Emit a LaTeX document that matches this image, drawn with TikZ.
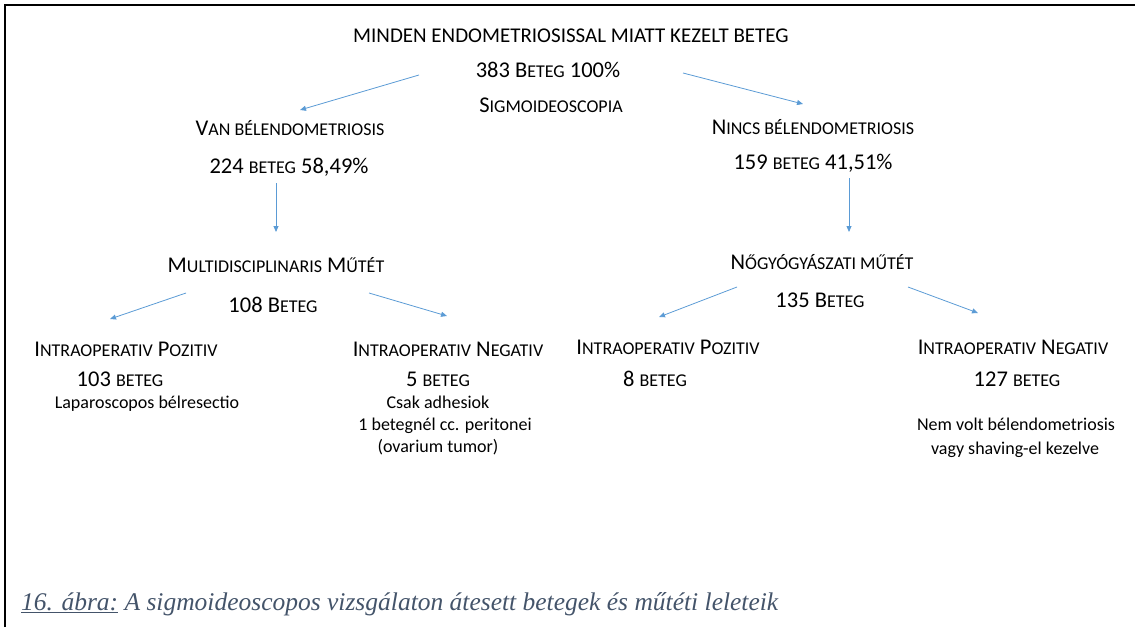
\documentclass[tikz,border=0pt]{standalone}
\usepackage{fontspec}
\setmainfont{Carlito}
\newfontfamily\captionfont{Liberation Serif}
\usepackage{xcolor}
\usetikzlibrary{arrows.meta,calc}
\definecolor{arrowblue}{RGB}{91,155,213}
\definecolor{captionblue}{RGB}{68,84,106}
\newcommand{\smc}[1]{{\fontsize{18}{20}\selectfont #1}}

\begin{document}
\begin{tikzpicture}[x=1pt,y=-1pt,
  txt/.style={anchor=base,inner sep=0pt,font=\fontsize{22.5}{26}\selectfont},
  plain/.style={anchor=base,inner sep=0pt,font=\fontsize{18}{22}\selectfont},
  arr/.style={arrowblue,line width=0.8pt,-{Triangle[length=6pt,width=5pt]}}]
  \useasboundingbox (0,0) rectangle (1135,627);
  % keret
  \draw[line width=1.5pt] (5,627) -- (5,5) -- (1135,5);
  % felso szint
  \node[txt,font=\fontsize{21}{24}\selectfont] (top) at (571,42) {MINDEN ENDOMETRIOSISSAL MIATT KEZELT BETEG};
  \node[txt] (cnt) at (548,77) {383 B\smc{ETEG} 100\%};
  \node[txt] (sig) at (551,112) {S\smc{IGMOIDEOSCOPIA}};
  % masodik szint
  \node[txt] (van) at (290,135) {V\smc{AN BÉLENDOMETRIOSIS}};
  \node[txt] (van2) at (289,173) {224 \smc{BETEG} 58,49\%};
  \node[txt] (nincs) at (813,134) {N\smc{INCS BÉLENDOMETRIOSIS}};
  \node[txt] (nincs2) at (813,169) {159 \smc{BETEG} 41,51\%};
  % mutetek
  \node[txt] (multi) at (276,272) {M\smc{ULTIDISCIPLINARIS} M\smc{ŰTÉT}};
  \node[txt] (multi2) at (273,312) {108 B\smc{ETEG}};
  \node[txt] (nogy) at (822,269) {N\smc{ŐGYÓGYÁSZATI MŰTÉT}};
  \node[txt] (nogy2) at (820,307) {135 B\smc{ETEG}};
  % intraoperativ leletek
  \node[txt] (lpos) at (126,356) {I\smc{NTRAOPERATIV} P\smc{OZITIV}};
  \node[txt] (lpos2) at (120,386) {103 \smc{BETEG}};
  \node[plain] (lpos3) at (147,408) {Laparoscopos bélresectio};
  \node[txt] (lneg) at (448,356) {I\smc{NTRAOPERATIV} N\smc{EGATIV}};
  \node[txt] (lneg2) at (438,386) {5 \smc{BETEG}};
  \node[plain] (lneg3) at (438,408) {Csak adhesiok};
  \node[plain] (lneg4) at (445,430) {1 betegnél cc. peritonei};
  \node[plain] (lneg5) at (438,452) {(ovarium tumor)};
  \node[txt] (rpos) at (668,354) {I\smc{NTRAOPERATIV} P\smc{OZITIV}};
  \node[txt] (rpos2) at (655,386) {8 \smc{BETEG}};
  \node[txt] (rneg) at (1013,354) {I\smc{NTRAOPERATIV} N\smc{EGATIV}};
  \node[txt] (rneg2) at (1017,386) {127 \smc{BETEG}};
  \node[plain] (rneg3) at (1016,430) {Nem volt bélendometriosis};
  \node[plain] (rneg4) at (1015,454) {vagy shaving-el kezelve};
  % nyilak
  \draw[arr] ($(cnt.base)+(-129,-2)$) -- ($(van.base)+(10,-25)$);
  \draw[arr] ($(cnt.base)+(135,-4)$) -- ($(nincs.base)+(-10,-30)$);
  \draw[arr] ($(van2.base)+(-13,10)$) -- ($(multi.base)+(0,-40)$);
  \draw[arr] ($(nincs2.base)+(36,9)$) -- ($(nogy.base)+(27,-37)$);
  \draw[arr] ($(multi2.base)+(-87,-19)$) -- ($(lpos.base)+(-16,-37)$);
  \draw[arr] ($(multi2.base)+(96,-19)$) -- ($(lneg.base)+(-1,-40)$);
  \draw[arr] ($(nogy2.base)+(-83,-20)$) -- ($(rpos.base)+(-9,-37)$);
  \draw[arr] ($(nogy2.base)+(88,-20)$) -- ($(rneg.base)+(-35,-41)$);
  % abrafelirat
  \node[anchor=base west,inner sep=0pt,text=captionblue,font=\captionfont\itshape\fontsize{25.5}{30}\selectfont] (cap) at (21,610)
    {\underline{16. ábra:} A sigmoideoscopos vizsgálaton átesett betegek és műtéti leleteik};
\end{tikzpicture}
\end{document}
